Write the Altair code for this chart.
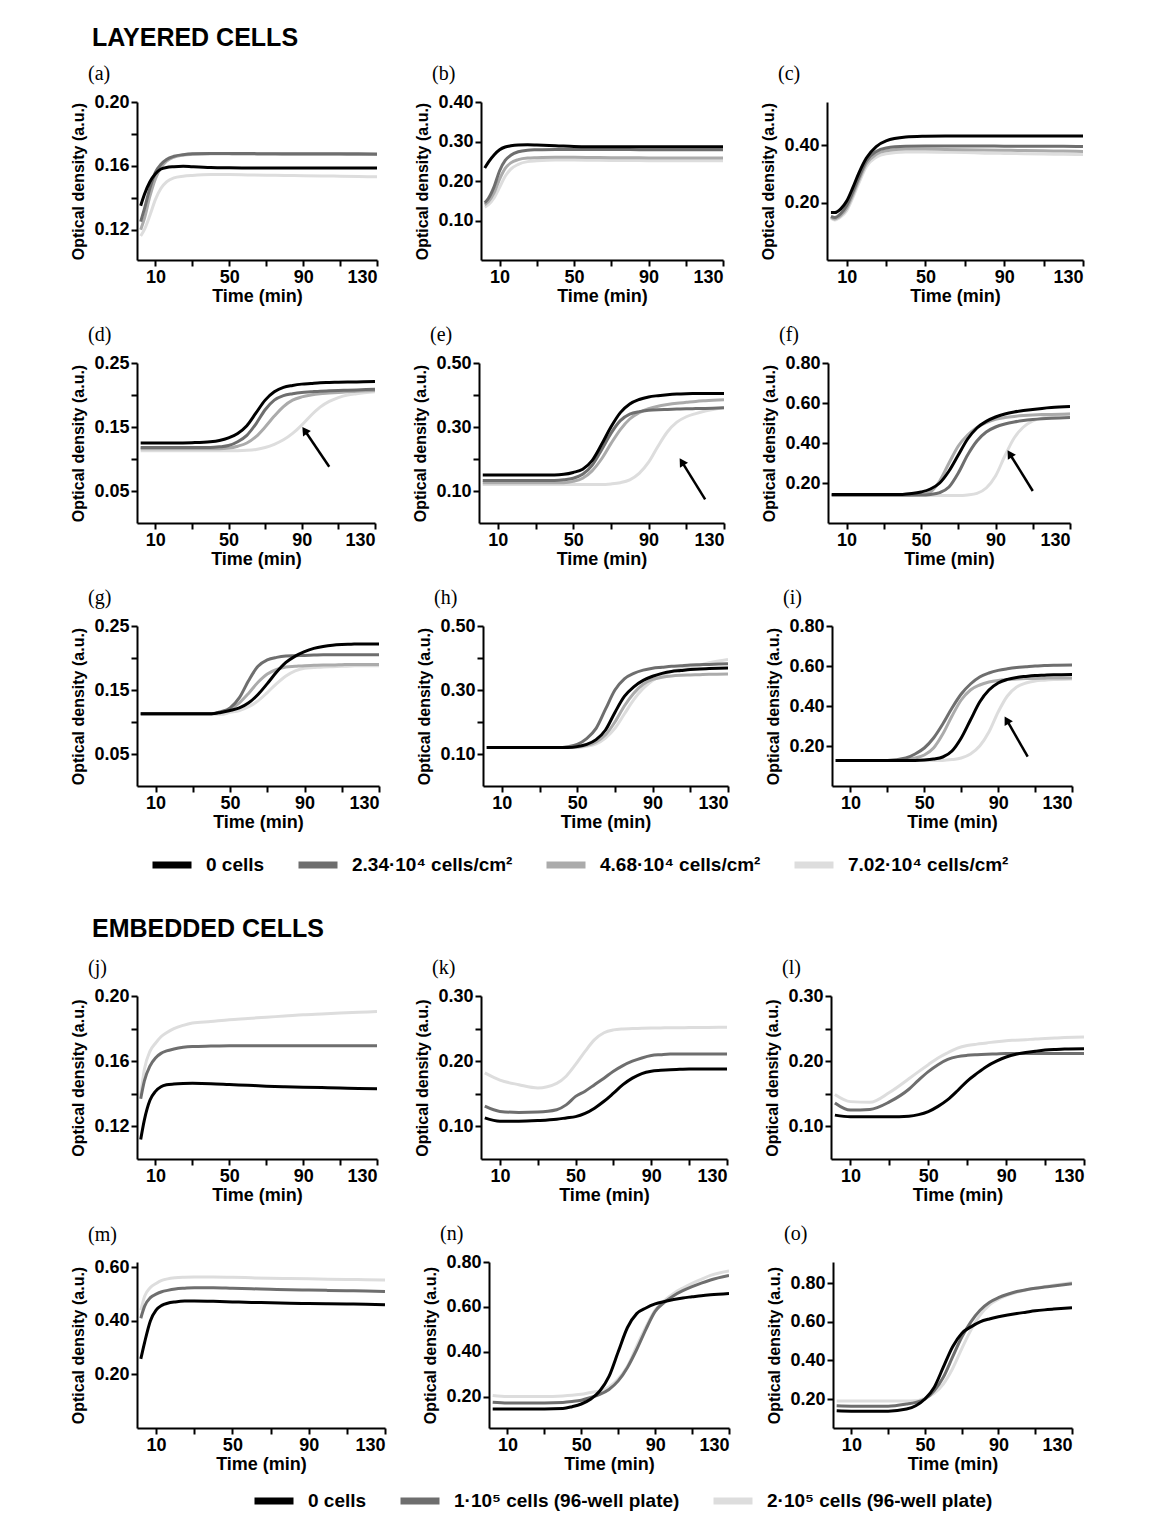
import json
import math
import altair as alt
import pandas as pd

# ---------------- data ----------------
T_EARLY = [2, 4, 7, 10, 13, 16, 20, 25, 30, 40, 50, 60, 70, 80, 90, 100, 110, 120, 130]
T_LATE = [2, 10, 20, 30, 40, 45, 50, 55, 60, 65, 70, 75, 80, 85, 90, 95, 100, 105, 110, 115, 120, 130]

SERIES_L = ["0 cells", "2.34·10⁴ cells/cm²", "4.68·10⁴ cells/cm²", "7.02·10⁴ cells/cm²"]
COLORS_L = ["#000000", "#6e6e6e", "#ababab", "#dddddd"]
SERIES_E = ["0 cells", "1·10⁵ cells (96-well plate)", "2·10⁵ cells (96-well plate)"]
COLORS_E = ["#000000", "#6e6e6e", "#dddddd"]

# (a)
A_0 = [0.135, 0.142, 0.150, 0.155, 0.158, 0.159, 0.1595, 0.1598, 0.1595, 0.159, 0.1588, 0.1587, 0.1587, 0.1587, 0.1587, 0.1587, 0.1587, 0.1587, 0.1587]
A_1 = [0.125, 0.133, 0.146, 0.156, 0.161, 0.164, 0.166, 0.167, 0.1675, 0.1677, 0.1677, 0.1677, 0.1676, 0.1676, 0.1676, 0.1675, 0.1675, 0.1675, 0.1674]
A_2 = [0.12, 0.127, 0.141, 0.152, 0.159, 0.163, 0.1655, 0.1668, 0.1672, 0.1675, 0.1675, 0.1674, 0.1674, 0.1673, 0.1673, 0.1672, 0.1672, 0.1671, 0.1671]
A_3 = [0.116, 0.12, 0.129, 0.139, 0.146, 0.15, 0.1525, 0.1535, 0.154, 0.1545, 0.1545, 0.1543, 0.1541, 0.154, 0.1538, 0.1537, 0.1535, 0.1533, 0.1531]
# (b)
B_0 = [0.233, 0.248, 0.266, 0.279, 0.286, 0.289, 0.291, 0.2915, 0.291, 0.2895, 0.2875, 0.2868, 0.2866, 0.2865, 0.2865, 0.2865, 0.2865, 0.2865, 0.2865]
B_1 = [0.145, 0.156, 0.185, 0.226, 0.252, 0.265, 0.274, 0.278, 0.279, 0.28, 0.28, 0.28, 0.2795, 0.2795, 0.279, 0.279, 0.279, 0.279, 0.279]
B_2 = [0.14, 0.148, 0.17, 0.205, 0.232, 0.246, 0.254, 0.258, 0.259, 0.26, 0.26, 0.2595, 0.259, 0.259, 0.2585, 0.2585, 0.258, 0.258, 0.258]
B_3 = [0.134, 0.14, 0.157, 0.184, 0.212, 0.23, 0.242, 0.249, 0.251, 0.253, 0.253, 0.2525, 0.252, 0.252, 0.2515, 0.2515, 0.251, 0.251, 0.251]
# (c)
C_0 = [0.165, 0.165, 0.178, 0.205, 0.25, 0.3, 0.355, 0.395, 0.415, 0.428, 0.431, 0.432, 0.432, 0.432, 0.432, 0.432, 0.432, 0.432, 0.432]
C_1 = [0.152, 0.148, 0.162, 0.19, 0.235, 0.285, 0.345, 0.378, 0.39, 0.396, 0.397, 0.397, 0.397, 0.397, 0.396, 0.396, 0.396, 0.396, 0.395]
C_2 = [0.148, 0.143, 0.155, 0.18, 0.225, 0.275, 0.335, 0.368, 0.38, 0.386, 0.386, 0.385, 0.384, 0.383, 0.382, 0.381, 0.38, 0.379, 0.378]
C_3 = [0.145, 0.139, 0.15, 0.172, 0.215, 0.265, 0.325, 0.358, 0.37, 0.376, 0.376, 0.375, 0.374, 0.372, 0.371, 0.37, 0.369, 0.368, 0.367]
# (d)
D_0 = [0.125, 0.125, 0.125, 0.1255, 0.127, 0.129, 0.133, 0.14, 0.152, 0.172, 0.192, 0.205, 0.212, 0.215, 0.217, 0.218, 0.219, 0.2195, 0.22, 0.2203, 0.2205, 0.221]
D_1 = [0.118, 0.118, 0.118, 0.118, 0.118, 0.119, 0.121, 0.127, 0.137, 0.155, 0.177, 0.192, 0.199, 0.202, 0.204, 0.205, 0.206, 0.2065, 0.207, 0.2075, 0.208, 0.209]
D_2 = [0.116, 0.116, 0.116, 0.116, 0.116, 0.116, 0.117, 0.12, 0.125, 0.135, 0.15, 0.167, 0.182, 0.192, 0.197, 0.2, 0.202, 0.203, 0.204, 0.205, 0.206, 0.207]
D_3 = [0.113, 0.113, 0.113, 0.113, 0.113, 0.113, 0.113, 0.113, 0.1135, 0.115, 0.118, 0.123, 0.13, 0.14, 0.153, 0.168, 0.181, 0.19, 0.196, 0.2, 0.202, 0.205]
# (e)
E_0 = [0.15, 0.15, 0.15, 0.15, 0.15, 0.152, 0.158, 0.168, 0.195, 0.245, 0.3, 0.345, 0.372, 0.386, 0.394, 0.398, 0.401, 0.403, 0.404, 0.4045, 0.405, 0.405]
E_1 = [0.133, 0.133, 0.133, 0.133, 0.133, 0.135, 0.14, 0.152, 0.18, 0.228, 0.28, 0.32, 0.34, 0.348, 0.352, 0.354, 0.355, 0.356, 0.357, 0.3575, 0.358, 0.36]
E_2 = [0.126, 0.126, 0.126, 0.126, 0.126, 0.126, 0.13, 0.14, 0.163, 0.2, 0.248, 0.292, 0.325, 0.345, 0.357, 0.365, 0.37, 0.374, 0.377, 0.38, 0.382, 0.385]
E_3 = [0.12, 0.12, 0.12, 0.12, 0.12, 0.12, 0.12, 0.12, 0.12, 0.12, 0.122, 0.126, 0.135, 0.155, 0.19, 0.24, 0.285, 0.315, 0.332, 0.342, 0.35, 0.36]
# (f)
F_0 = [0.143, 0.143, 0.143, 0.143, 0.143, 0.147, 0.155, 0.17, 0.2, 0.26, 0.34, 0.42, 0.475, 0.508, 0.53, 0.545, 0.555, 0.562, 0.568, 0.573, 0.577, 0.582]
F_1 = [0.14, 0.14, 0.14, 0.14, 0.14, 0.14, 0.14, 0.143, 0.152, 0.18, 0.25, 0.34, 0.41, 0.455, 0.48, 0.495, 0.505, 0.512, 0.517, 0.521, 0.524, 0.528]
F_2 = [0.14, 0.14, 0.14, 0.14, 0.14, 0.14, 0.142, 0.155, 0.21, 0.3, 0.385, 0.44, 0.478, 0.502, 0.518, 0.527, 0.533, 0.537, 0.54, 0.542, 0.543, 0.545]
F_3 = [0.137, 0.137, 0.137, 0.137, 0.137, 0.137, 0.137, 0.137, 0.137, 0.137, 0.137, 0.14, 0.148, 0.175, 0.235, 0.335, 0.425, 0.48, 0.51, 0.525, 0.535, 0.545]
# (g)
G_0 = [0.113, 0.113, 0.113, 0.113, 0.113, 0.115, 0.118, 0.122, 0.13, 0.143, 0.16, 0.178, 0.193, 0.203, 0.21, 0.215, 0.218, 0.22, 0.221, 0.2215, 0.222, 0.222]
G_1 = [0.113, 0.113, 0.113, 0.113, 0.113, 0.116, 0.122, 0.138, 0.165, 0.187, 0.197, 0.201, 0.203, 0.2035, 0.204, 0.2045, 0.205, 0.205, 0.205, 0.205, 0.205, 0.205]
G_2 = [0.113, 0.113, 0.113, 0.113, 0.113, 0.115, 0.12, 0.13, 0.145, 0.162, 0.175, 0.182, 0.186, 0.187, 0.188, 0.1885, 0.189, 0.189, 0.1895, 0.19, 0.19, 0.19]
G_3 = [0.112, 0.112, 0.112, 0.112, 0.112, 0.112, 0.115, 0.118, 0.124, 0.133, 0.146, 0.16, 0.172, 0.18, 0.184, 0.185, 0.186, 0.1865, 0.187, 0.1875, 0.188, 0.188]
# (h)
H_0 = [0.12, 0.12, 0.12, 0.12, 0.12, 0.12, 0.123, 0.13, 0.145, 0.175, 0.23, 0.28, 0.31, 0.33, 0.343, 0.352, 0.358, 0.361, 0.364, 0.366, 0.367, 0.369]
H_1 = [0.12, 0.12, 0.12, 0.12, 0.12, 0.123, 0.13, 0.148, 0.18, 0.24, 0.3, 0.335, 0.352, 0.362, 0.368, 0.371, 0.374, 0.376, 0.378, 0.379, 0.38, 0.382]
H_2 = [0.12, 0.12, 0.12, 0.12, 0.12, 0.12, 0.122, 0.127, 0.138, 0.16, 0.2, 0.25, 0.29, 0.318, 0.333, 0.34, 0.344, 0.346, 0.347, 0.348, 0.349, 0.35]
H_3 = [0.12, 0.12, 0.12, 0.12, 0.12, 0.12, 0.12, 0.124, 0.132, 0.15, 0.18, 0.225, 0.27, 0.305, 0.33, 0.345, 0.358, 0.366, 0.372, 0.378, 0.385, 0.395]
# (i)
I_0 = [0.128, 0.128, 0.128, 0.128, 0.128, 0.128, 0.13, 0.135, 0.145, 0.175, 0.24, 0.33, 0.42, 0.48, 0.515, 0.533, 0.543, 0.548, 0.552, 0.554, 0.556, 0.558]
I_1 = [0.128, 0.128, 0.128, 0.128, 0.14, 0.16, 0.19, 0.24, 0.31, 0.39, 0.46, 0.51, 0.545, 0.565, 0.578, 0.586, 0.592, 0.596, 0.6, 0.602, 0.604, 0.605]
I_2 = [0.128, 0.128, 0.128, 0.128, 0.133, 0.14, 0.155, 0.19, 0.26, 0.35, 0.43, 0.48, 0.505, 0.52, 0.528, 0.532, 0.535, 0.537, 0.538, 0.539, 0.54, 0.54]
I_3 = [0.128, 0.128, 0.128, 0.128, 0.128, 0.128, 0.128, 0.128, 0.128, 0.132, 0.14, 0.16, 0.2, 0.27, 0.37, 0.45, 0.495, 0.515, 0.525, 0.529, 0.532, 0.535]
# (j)
J_0 = [0.112, 0.124, 0.136, 0.1415, 0.1443, 0.1455, 0.146, 0.1463, 0.1464, 0.1462, 0.1457, 0.1452, 0.1447, 0.1443, 0.144, 0.1438, 0.1436, 0.1433, 0.1431]
J_1 = [0.137, 0.148, 0.157, 0.162, 0.1648, 0.1663, 0.1675, 0.1685, 0.169, 0.1693, 0.1695, 0.1695, 0.1695, 0.1695, 0.1695, 0.1695, 0.1695, 0.1695, 0.1695]
J_2 = [0.139, 0.155, 0.166, 0.171, 0.175, 0.1775, 0.18, 0.182, 0.1834, 0.1844, 0.1855, 0.1862, 0.187, 0.1877, 0.1885, 0.189, 0.1895, 0.19, 0.1905]
# (k)
K_0 = [0.113, 0.108, 0.108, 0.109, 0.111, 0.113, 0.115, 0.12, 0.128, 0.1385, 0.151, 0.164, 0.174, 0.181, 0.1846, 0.186, 0.187, 0.1875, 0.188, 0.188, 0.188, 0.188]
K_1 = [0.131, 0.123, 0.1215, 0.122, 0.1256, 0.133, 0.146, 0.154, 0.164, 0.174, 0.1846, 0.1933, 0.2, 0.205, 0.2087, 0.21, 0.211, 0.211, 0.2112, 0.2112, 0.2112, 0.2112]
K_2 = [0.182, 0.171, 0.164, 0.159, 0.166, 0.177, 0.195, 0.215, 0.233, 0.2436, 0.248, 0.2495, 0.25, 0.2505, 0.2508, 0.251, 0.2513, 0.2513, 0.2515, 0.2515, 0.2518, 0.252]
# (l)
L_0 = [0.1173, 0.1147, 0.1147, 0.1147, 0.1157, 0.118, 0.1227, 0.1307, 0.141, 0.1547, 0.1696, 0.1813, 0.192, 0.2, 0.2064, 0.2107, 0.2133, 0.2153, 0.217, 0.218, 0.2187, 0.219]
L_1 = [0.136, 0.125, 0.126, 0.1376, 0.157, 0.171, 0.184, 0.1947, 0.2027, 0.207, 0.209, 0.21, 0.2107, 0.2112, 0.2117, 0.2117, 0.2117, 0.2117, 0.2117, 0.2117, 0.2117, 0.2117]
L_2 = [0.149, 0.138, 0.137, 0.152, 0.173, 0.184, 0.1947, 0.205, 0.213, 0.22, 0.224, 0.2262, 0.228, 0.23, 0.2315, 0.2322, 0.233, 0.234, 0.2347, 0.2355, 0.2362, 0.2373]
# (m)
M_0 = [0.258, 0.32, 0.4, 0.44, 0.458, 0.466, 0.471, 0.474, 0.474, 0.473, 0.471, 0.469, 0.468, 0.466, 0.465, 0.464, 0.463, 0.462, 0.46]
M_1 = [0.41, 0.455, 0.487, 0.5, 0.509, 0.514, 0.519, 0.522, 0.524, 0.524, 0.522, 0.52, 0.518, 0.516, 0.515, 0.514, 0.513, 0.512, 0.51]
M_2 = [0.44, 0.492, 0.525, 0.54, 0.551, 0.557, 0.561, 0.563, 0.564, 0.564, 0.563, 0.561, 0.559, 0.558, 0.557, 0.556, 0.555, 0.554, 0.553]
# (n)
N_0 = [0.145, 0.145, 0.145, 0.145, 0.147, 0.155, 0.167, 0.188, 0.225, 0.29, 0.4, 0.508, 0.57, 0.595, 0.613, 0.624, 0.633, 0.64, 0.645, 0.65, 0.654, 0.66]
N_1 = [0.175, 0.172, 0.172, 0.172, 0.174, 0.178, 0.184, 0.196, 0.21, 0.232, 0.27, 0.33, 0.41, 0.5, 0.58, 0.62, 0.65, 0.672, 0.69, 0.706, 0.72, 0.74]
N_2 = [0.205, 0.2, 0.2, 0.2, 0.203, 0.206, 0.21, 0.218, 0.225, 0.243, 0.278, 0.335, 0.425, 0.51, 0.585, 0.628, 0.66, 0.684, 0.705, 0.723, 0.74, 0.76]
# (o)
O_0 = [0.139, 0.137, 0.137, 0.137, 0.148, 0.165, 0.2, 0.26, 0.365, 0.47, 0.54, 0.574, 0.6, 0.615, 0.626, 0.635, 0.643, 0.65, 0.657, 0.662, 0.666, 0.673]
O_1 = [0.165, 0.163, 0.163, 0.163, 0.174, 0.183, 0.2, 0.243, 0.313, 0.417, 0.52, 0.6, 0.66, 0.7, 0.725, 0.743, 0.757, 0.766, 0.774, 0.78, 0.786, 0.797]
O_2 = [0.19, 0.19, 0.19, 0.19, 0.19, 0.191, 0.205, 0.23, 0.278, 0.357, 0.46, 0.557, 0.635, 0.687, 0.717, 0.738, 0.753, 0.765, 0.774, 0.782, 0.79, 0.803]

# arrows (tail time, tail OD, head time, head OD)
ARROW_D = [105, 0.088, 92, 0.143]
ARROW_E = [120, 0.074, 108, 0.188]
ARROW_F = [110, 0.16, 98, 0.34]
ARROW_I = [106, 0.147, 95, 0.324]

X_TICKS = [10, 30, 50, 70, 90, 110, 130]
X_LABELS = [10, 50, 90, 130]

# ---------------- styling ----------------
FONT = "Liberation Sans"
SERIF = "Liberation Serif"


def ylabel_expr(labels):
    strs = [f"{v:.2f}" for v in labels]
    return ("indexof(" + json.dumps(strs) + ", format(datum.value, '.2f')) >= 0 ? "
            "format(datum.value, '.2f') : ''")


XLABEL_EXPR = "indexof(" + json.dumps(X_LABELS) + ", datum.value) >= 0 ? datum.label : ''"


def make_legend(x, y):
    return alt.Legend(
        orient="none", legendX=x, legendY=y, direction="horizontal", title=None,
        symbolType="stroke", symbolStrokeWidth=7, symbolSize=1521,
        labelFont=FONT, labelFontSize=19, labelFontWeight="bold", labelColor="black",
        labelLimit=400, labelOffset=11, columnPadding=19,
    )


LEG_L = make_legend(12, 740)
LEG_E = make_legend(114, 482)


def panel(letter, times, curves, series, colors, legend, ydom, yticks, ylabels,
          w, h, arrow=None, toff=9):
    rows = []
    for name, vals in reversed(list(zip(series, curves))):
        for t, v in zip(times, vals):
            rows.append({"time": t, "od": v, "series": name})
    df = pd.DataFrame(rows)
    xscale = alt.Scale(domain=[0, 130], nice=False, zero=False)
    yscale = alt.Scale(domain=ydom, nice=False, zero=False)
    xaxis = alt.Axis(values=X_TICKS, labelExpr=XLABEL_EXPR, title="Time (min)")
    yaxis = alt.Axis(values=yticks, labelExpr=ylabel_expr(ylabels),
                     title="Optical density (a.u.)")
    lines = alt.Chart(df).mark_line(strokeWidth=3, interpolate="monotone", clip=True).encode(
        x=alt.X("time:Q", scale=xscale, axis=xaxis),
        y=alt.Y("od:Q", scale=yscale, axis=yaxis),
        color=alt.Color("series:N", scale=alt.Scale(domain=series, range=colors), legend=legend),
    )
    layers = [lines]
    if arrow:
        t0, v0, t1, v1 = arrow
        adf = pd.DataFrame({"time": [t0], "od": [v0], "time2": [t1], "od2": [v1]})
        sx = w / 130.0
        sy = h / (ydom[1] - ydom[0])
        dx = (t1 - t0) * sx
        dy = -(v1 - v0) * sy
        ang = math.degrees(math.atan2(dx, -dy)) % 360
        rule = alt.Chart(adf).mark_rule(color="black", strokeWidth=2.5).encode(
            x=alt.X("time:Q", scale=xscale, axis=xaxis),
            y=alt.Y("od:Q", scale=yscale, axis=yaxis),
            x2="time2:Q", y2="od2:Q",
        )
        head = alt.Chart(adf).mark_point(shape="triangle", filled=True, size=90,
                                          color="black", opacity=1, angle=ang).encode(
            x=alt.X("time2:Q", scale=xscale, axis=xaxis),
            y=alt.Y("od2:Q", scale=yscale, axis=yaxis),
        )
        layers += [rule, head]
    return alt.layer(*layers).properties(
        width=w, height=h,
        title=alt.TitleParams(letter, anchor="start", frame="group", font=SERIF, fontSize=20,
                              fontWeight="normal", color="black", dx=-49, offset=toff),
    )


L4 = dict(series=SERIES_L, colors=COLORS_L, legend=LEG_L)
E3 = dict(series=SERIES_E, colors=COLORS_E, legend=LEG_E)

TK_A = [0.12, 0.14, 0.16, 0.18, 0.20]
TK_D = [0.05, 0.10, 0.15, 0.20, 0.25]
TK_E = [0.10, 0.20, 0.30, 0.40, 0.50]
TK_F = [0.20, 0.40, 0.60, 0.80]
TK_K = [0.10, 0.15, 0.20, 0.25, 0.30]

pa = panel("(a)", T_EARLY, [A_0, A_1, A_2, A_3], ydom=[0.101, 0.20], yticks=TK_A,
           ylabels=[0.12, 0.16, 0.20], w=240, h=158, **L4)
pb = panel("(b)", T_EARLY, [B_0, B_1, B_2, B_3], ydom=[0, 0.40], yticks=[0.1, 0.2, 0.3, 0.4],
           ylabels=[0.1, 0.2, 0.3, 0.4], w=242, h=158, **L4)
pc = panel("(c)", T_EARLY, [C_0, C_1, C_2, C_3], ydom=[0, 0.55], yticks=[0.2, 0.4],
           ylabels=[0.2, 0.4], w=256, h=158, toff=18, **L4)
pd_ = panel("(d)", T_LATE, [D_0, D_1, D_2, D_3], ydom=[0, 0.25], yticks=TK_D,
            ylabels=[0.05, 0.15, 0.25], w=238, h=160, arrow=ARROW_D, **L4)
pe = panel("(e)", T_LATE, [E_0, E_1, E_2, E_3], ydom=[0, 0.50], yticks=TK_E,
           ylabels=[0.10, 0.30, 0.50], w=245, h=160, arrow=ARROW_E, **L4)
pf = panel("(f)", T_LATE, [F_0, F_1, F_2, F_3], ydom=[0, 0.80], yticks=TK_F,
           ylabels=TK_F, w=242, h=160, arrow=ARROW_F, **L4)
pg = panel("(g)", T_LATE, [G_0, G_1, G_2, G_3], ydom=[0, 0.25], yticks=TK_D,
           ylabels=[0.05, 0.15, 0.25], w=242, h=160, **L4)
ph = panel("(h)", T_LATE, [H_0, H_1, H_2, H_3], ydom=[0, 0.50], yticks=TK_E,
           ylabels=[0.10, 0.30, 0.50], w=245, h=160, **L4)
pi = panel("(i)", T_LATE, [I_0, I_1, I_2, I_3], ydom=[0, 0.80], yticks=TK_F,
           ylabels=TK_F, w=240, h=160, arrow=ARROW_I, **L4)

pj = panel("(j)", T_EARLY, [J_0, J_1, J_2], ydom=[0.10, 0.20], yticks=TK_A,
           ylabels=[0.12, 0.16, 0.20], w=240, h=163, **E3)
pk = panel("(k)", T_LATE, [K_0, K_1, K_2], ydom=[0.05, 0.30], yticks=TK_K,
           ylabels=[0.10, 0.20, 0.30], w=246, h=163, **E3)
pl = panel("(l)", T_LATE, [L_0, L_1, L_2], ydom=[0.05, 0.30], yticks=TK_K,
           ylabels=[0.10, 0.20, 0.30], w=253, h=163, **E3)
pm = panel("(m)", T_EARLY, [M_0, M_1, M_2], ydom=[0, 0.62], yticks=[0.2, 0.4, 0.6],
           ylabels=[0.2, 0.4, 0.6], w=248, h=166, toff=13, **E3)
pn = panel("(n)", T_LATE, [N_0, N_1, N_2], ydom=[0.06, 0.80], yticks=TK_F,
           ylabels=TK_F, w=240, h=166, **E3)
po = panel("(o)", T_LATE, [O_0, O_1, O_2], ydom=[0.05, 0.91], yticks=TK_F,
           ylabels=TK_F, w=239, h=166, toff=18, **E3)

HS = 36
row1 = alt.hconcat(pa, pb, pc, spacing=HS)
row2 = alt.hconcat(pd_, pe, pf, spacing=HS)
row3 = alt.hconcat(pg, ph, pi, spacing=HS)
row4 = alt.hconcat(pj, pk, pl, spacing=HS)
row5 = alt.hconcat(pm, pn, po, spacing=HS)


def block_title(text, off):
    return alt.TitleParams(text, anchor="start", frame="group", font=FONT, fontSize=25,
                           fontWeight="bold", color="black", dx=-45, offset=off)


block1 = alt.vconcat(row1, row2, row3, spacing=20).properties(
    title=block_title("LAYERED CELLS", 13))
block2 = alt.vconcat(row4, row5, spacing=20).properties(
    title=block_title("EMBEDDED CELLS", 16))

chart = (
    alt.vconcat(block1, block2, spacing=38)
    .resolve_scale(color="independent")
    .resolve_legend(color="independent")
    .properties(padding={"left": 62, "top": 18, "right": 10, "bottom": 10}, background="white")
    .configure_view(stroke=None)
    .configure_axis(
        grid=False, domainColor="black", domainWidth=2, tickColor="black", tickWidth=2,
        tickSize=6, labelFont=FONT, labelFontSize=18, labelFontWeight="bold",
        labelColor="black", labelPadding=2, titleFont=FONT, titleFontSize=18,
        titleFontWeight="bold", titleColor="black",
    )
    .configure_axisY(titleFontSize=16, titlePadding=7)
    .configure_axisX(titlePadding=1)
)

chart.save("out.html", embed_options={"renderer": "svg", "actions": False})
